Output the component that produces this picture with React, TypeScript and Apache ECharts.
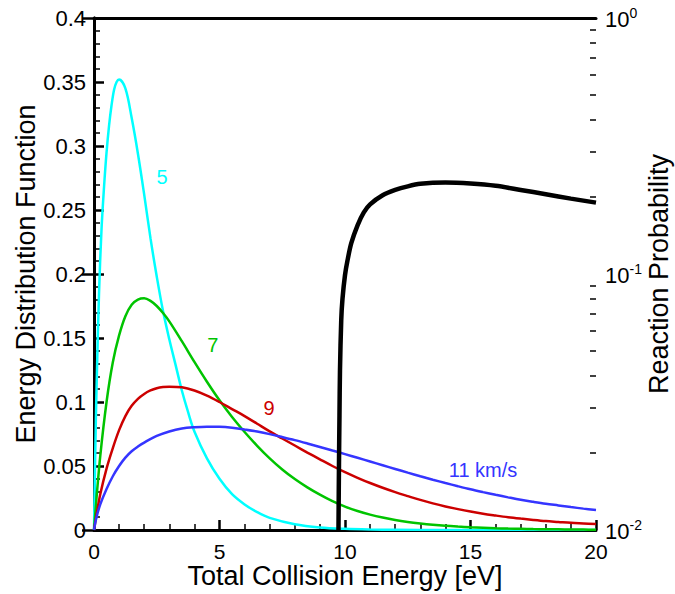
import React, { useEffect, useRef } from "react";
import * as echarts from "echarts";

// ---- Data ----
const cyanE = [0, 0.05, 0.1, 0.2, 0.3, 0.4, 0.5, 0.6, 0.7, 0.8, 0.9, 1.0, 1.25, 1.5, 1.75, 2.0, 2.25, 2.5, 2.75, 3.0, 3.25, 3.5, 3.75, 4.0, 4.5, 5.0, 5.5, 6.0, 6.5, 7.0, 8.0, 9.0, 10, 11, 12, 14, 20];
const cyanF = [0, 0.06, 0.11, 0.185, 0.235, 0.268, 0.295, 0.316, 0.332, 0.344, 0.35, 0.352, 0.345, 0.322, 0.294, 0.262, 0.228, 0.198, 0.171, 0.149, 0.129, 0.109, 0.092, 0.077, 0.056, 0.04, 0.028, 0.02, 0.014, 0.0095, 0.0045, 0.002, 0.0009, 0.0004, 0.0002, 0, 0];

const greenE = [0, 0.1, 0.25, 0.5, 0.75, 1.0, 1.25, 1.5, 1.75, 2.0, 2.25, 2.5, 2.75, 3.0, 3.5, 4.0, 4.5, 5.0, 5.5, 6.0, 6.5, 7.0, 7.5, 8.0, 8.5, 9.0, 9.5, 10, 10.5, 11, 11.5, 12, 12.5, 13, 13.5, 14, 14.5, 15, 15.5, 16, 16.5, 17, 17.5, 18, 18.5, 19, 19.5, 20];
const greenF = [0, 0.025, 0.058, 0.1, 0.131, 0.152, 0.167, 0.176, 0.18, 0.181, 0.179, 0.175, 0.1695, 0.163, 0.1475, 0.1313, 0.1158, 0.1013, 0.0883, 0.0766, 0.0658, 0.056, 0.0473, 0.0398, 0.0333, 0.0276, 0.0225, 0.0183, 0.0148, 0.012, 0.0097, 0.0078, 0.0063, 0.0051, 0.0041, 0.0033, 0.0027, 0.0022, 0.0018, 0.0014, 0.0011, 0.0009, 0.0007, 0.0006, 0.0005, 0.0004, 0.0003, 0.0002];

const redE = [0, 0.1, 0.25, 0.5, 0.75, 1.0, 1.25, 1.5, 1.75, 2.0, 2.25, 2.5, 2.75, 3.0, 3.5, 4.0, 4.5, 5.0, 5.5, 6.0, 6.5, 7.0, 7.5, 8.0, 8.5, 9.0, 9.5, 10, 10.5, 11, 11.5, 12, 12.5, 13, 13.5, 14, 14.5, 15, 15.5, 16, 16.5, 17, 17.5, 18, 18.5, 19, 19.5, 20];
const redF = [0, 0.012, 0.028, 0.048, 0.064, 0.078, 0.089, 0.097, 0.1025, 0.1063, 0.109, 0.1108, 0.1117, 0.112, 0.1115, 0.109, 0.105, 0.1, 0.0945, 0.089, 0.083, 0.077, 0.0715, 0.066, 0.0605, 0.0552, 0.05, 0.0452, 0.0408, 0.0367, 0.033, 0.0296, 0.0265, 0.0235, 0.0208, 0.0184, 0.0163, 0.0144, 0.0127, 0.0113, 0.01, 0.0089, 0.0079, 0.007, 0.0063, 0.0056, 0.0051, 0.0046];

const blueE = [0, 0.1, 0.25, 0.5, 0.75, 1.0, 1.25, 1.5, 1.75, 2.0, 2.5, 3.0, 3.5, 4.0, 4.5, 5.0, 5.5, 6.0, 6.5, 7.0, 7.5, 8.0, 8.5, 9.0, 9.5, 10, 10.5, 11, 11.5, 12, 12.5, 13, 13.5, 14, 14.5, 15, 15.5, 16, 16.5, 17, 17.5, 18, 18.5, 19, 19.5, 20];
const blueF = [0, 0.01, 0.02, 0.032, 0.042, 0.05, 0.0565, 0.0615, 0.0652, 0.0683, 0.0735, 0.077, 0.0793, 0.0803, 0.0807, 0.0806, 0.0799, 0.0786, 0.0769, 0.0749, 0.0726, 0.0702, 0.0676, 0.0649, 0.0621, 0.0593, 0.0564, 0.0535, 0.0506, 0.0477, 0.0448, 0.042, 0.0393, 0.0367, 0.0342, 0.0318, 0.0296, 0.0275, 0.0255, 0.0236, 0.022, 0.0205, 0.0192, 0.0179, 0.0167, 0.0156];

// Reaction probability (right, log axis)
const probE = [9.74, 9.76, 9.78, 9.8, 9.85, 9.9, 10.0, 10.1, 10.25, 10.5, 10.75, 11.0, 11.5, 12.0, 12.5, 13.0, 14.0, 15.0, 16.0, 17.0, 18.0, 19.0, 20];
const probP = [0.01, 0.018, 0.028, 0.042, 0.066, 0.08, 0.099, 0.113, 0.132, 0.155, 0.174, 0.187, 0.203, 0.213, 0.22, 0.225, 0.2275, 0.2255, 0.221, 0.213, 0.205, 0.197, 0.19];

const xTicks = [0, 5, 10, 15, 20];
const leftTicks = [0, 0.4];
const rightMinorTicks = [0.02, 0.03, 0.04, 0.05, 0.06, 0.07, 0.08, 0.09, 0.2, 0.3, 0.4, 0.5, 0.6, 0.7, 0.8, 0.9];

const curveLabels = ["5", "7", "9", "11 km/s"];
const curveLabelAt = [
  [2.71, 0.276],
  [4.73, 0.1445],
  [6.97, 0.095],
  [15.5, 0.047],
];

const zip = (a: number[], b: number[]) => a.map((x, i) => [x, b[i]]);

const FONT = "'Liberation Sans', Arial, Helvetica, sans-serif";

export default function App() {
  const ref = useRef<HTMLDivElement>(null);
  useEffect(() => {
    if (!ref.current) return;
    const chart = echarts.init(ref.current, undefined, { renderer: "svg" });
    const colors = ["#00ffff", "#00c400", "#cc0000", "#3535ff"];
    const datas = [zip(cyanE, cyanF), zip(greenE, greenF), zip(redE, redF), zip(blueE, blueF)];
    const axisLineStyle = { color: "#000", width: 3 };
    const lineSeries = datas.map((d, i) => ({
      type: "line",
      xAxisIndex: 0,
      yAxisIndex: 0,
      data: d,
      showSymbol: false,
      smooth: 0.35,
      lineStyle: { color: colors[i], width: 2.5 },
      itemStyle: { color: colors[i] },
      z: 3,
      markPoint: {
        symbol: "circle",
        symbolSize: 0,
        silent: true,
        data: [
          {
            coord: curveLabelAt[i],
            label: {
              show: true,
              position: "inside",
              formatter: curveLabels[i],
              color: colors[i],
              fontSize: 20,
              fontFamily: FONT,
            },
          },
        ],
      },
    }));
    const option: any = {
      animation: false,
      textStyle: { fontFamily: FONT },
      grid: { left: 94, right: 79, top: 18, bottom: 64, containLabel: false, outerBoundsMode: "none" },
      xAxis: [
        {
          type: "value",
          position: "bottom",
          min: xTicks[0],
          max: xTicks[xTicks.length - 1],
          interval: 5,
          axisLine: { show: true, lineStyle: axisLineStyle },
          axisTick: { show: true, inside: true, length: 10, lineStyle: { color: "#000", width: 2.5 } },
          minorTick: { show: true, splitNumber: 5, length: 6, lineStyle: { color: "#000", width: 1.5 } },
          splitLine: { show: false },
          axisLabel: { color: "#000", fontSize: 21, lineHeight: 20, margin: 11, fontFamily: FONT },
          name: "Total Collision Energy [eV]",
          nameLocation: "middle",
          nameGap: 34,
          nameMoveOverlap: false,
          nameTextStyle: { color: "#000", fontSize: 27, lineHeight: 24, fontFamily: FONT },
        },
        {
          type: "value",
          position: "top",
          min: xTicks[0],
          max: xTicks[xTicks.length - 1],
          axisLine: { show: true, lineStyle: axisLineStyle },
          axisTick: { show: false },
          axisLabel: { show: false },
          splitLine: { show: false },
        },
      ],
      yAxis: [
        {
          type: "value",
          position: "left",
          min: leftTicks[0],
          max: leftTicks[1],
          interval: 0.05,
          axisLine: { show: true, lineStyle: axisLineStyle },
          axisTick: { show: true, inside: true, length: 10, lineStyle: { color: "#000", width: 2.5 } },
          minorTick: { show: true, splitNumber: 5, length: 6, lineStyle: { color: "#000", width: 1.5 } },
          splitLine: { show: false },
          axisLabel: { color: "#000", fontSize: 22, margin: 8, fontFamily: FONT },
          name: "Energy Distribution Function",
          nameLocation: "middle",
          nameRotate: 90,
          nameGap: 55,
          nameMoveOverlap: false,
          nameTextStyle: { color: "#000", fontSize: 27, fontFamily: FONT },
        },
        {
          type: "log",
          logBase: 10,
          position: "right",
          min: 0.01,
          max: 1,
          axisLine: { show: true, lineStyle: axisLineStyle },
          axisTick: { show: true, inside: true, length: 12, lineStyle: { color: "#000", width: 2.5 } },
          splitLine: { show: false },
          axisLabel: {
            color: "#000",
            margin: 9,
            fontFamily: FONT,
            formatter: (v: number) => {
              const e = Math.round(Math.log10(v));
              return "{b|10}{s|" + e + "}";
            },
            rich: {
              b: { fontSize: 22, color: "#000", fontFamily: FONT, lineHeight: 24, verticalAlign: "bottom" },
              s: { fontSize: 14, color: "#000", fontFamily: FONT, lineHeight: 24, verticalAlign: "top", padding: [0, 0, 8, 0] },
            },
          },
          name: "Reaction Probability",
          nameLocation: "middle",
          nameRotate: 90,
          nameGap: 49,
          nameMoveOverlap: false,
          nameTextStyle: { color: "#000", fontSize: 27, fontFamily: FONT },
        },
        {
          type: "log",
          logBase: 10,
          position: "right",
          min: 0.01,
          max: 1,
          axisLine: { show: false },
          axisTick: {
            show: true,
            inside: true,
            length: 6,
            customValues: rightMinorTicks,
            lineStyle: { color: "#000", width: 1.5 },
          },
          axisLabel: { show: false },
          splitLine: { show: false },
        },
      ],
      series: [
        ...lineSeries,
        {
          type: "line",
          xAxisIndex: 0,
          yAxisIndex: 1,
          data: zip(probE, probP),
          showSymbol: false,
          smooth: 0.3,
          lineStyle: { color: "#000", width: 4.5 },
          itemStyle: { color: "#000" },
          z: 4,
        },
      ],
    };
    chart.setOption(option);
    return () => chart.dispose();
  }, []);
  return (
    <div
      ref={ref}
      style={{ position: "absolute", left: 0, top: 0, width: 675, height: 594, background: "#fff" }}
    />
  );
}
